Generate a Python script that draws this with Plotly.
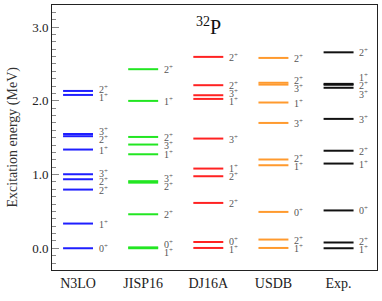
import plotly.graph_objects as go

models = ["N3LO", "JISP16", "DJ16A", "USDB", "Exp."]
colors = ["#1f1fff", "#22e622", "#ff2222", "#ff9a2e", "#111111"]

n3lo_E = [0.0, 0.335, 0.796, 0.936, 1.004, 1.339, 1.52, 1.55, 2.080, 2.134]
n3lo_J = ["0", "1", "2", "2", "3", "1", "2", "3", "1", "2"]

jisp_E = [0.0, 0.012, 0.461, 0.89, 0.91, 1.275, 1.407, 1.510, 1.999, 2.429]
jisp_J = ["1", "0", "2", "2", "3", "1", "3", "2", "1", "2"]

dj_E = [0.004, 0.085, 0.615, 0.977, 1.081, 1.488, 2.026, 2.076, 2.212, 2.596]
dj_J = ["1", "0", "2", "2", "1", "3", "1", "3", "2", "2"]

usdb_E = [0.004, 0.118, 0.493, 1.126, 1.204, 1.700, 1.977, 2.22, 2.245, 2.582]
usdb_J = ["1", "2", "0", "1", "2", "3", "1", "3", "2", "2"]

exp_E = [0.0, 0.078, 0.513, 1.149, 1.323, 1.755, 2.177, 2.218, 2.230, 2.658]
exp_J = ["1", "2", "0", "1", "2", "3", "3", "2", "1", "2"]

energies = [n3lo_E, jisp_E, dj_E, usdb_E, exp_E]
spins = [n3lo_J, jisp_J, dj_J, usdb_J, exp_J]

SERIF = "Liberation Serif, DejaVu Serif, Times New Roman, serif"
HALF = 0.23
GAP = 0.11


def spread(vals, gap):
    order = sorted(range(len(vals)), key=lambda i: vals[i])
    sv = [vals[i] for i in order]
    groups = [[i] for i in range(len(sv))]

    def start_of(g):
        c = sum(sv[k] for k in g) / len(g)
        return c - gap * (len(g) - 1) / 2

    changed = True
    while changed:
        changed = False
        new = [groups[0]]
        for g in groups[1:]:
            prev = new[-1]
            prev_top = start_of(prev) + gap * (len(prev) - 1)
            if start_of(g) - prev_top < gap - 1e-9:
                new[-1] = prev + g
                changed = True
            else:
                new.append(g)
        groups = new
    out = [0.0] * len(vals)
    for g in groups:
        s = start_of(g)
        for j, k in enumerate(g):
            out[order[k]] = s + j * gap
    return out


fig = go.Figure()
annotations = []
for ci, (E, J, col) in enumerate(zip(energies, spins, colors)):
    xs, ys = [], []
    for e in E:
        xs += [ci - HALF, ci + HALF, None]
        ys += [e, e, None]
    fig.add_trace(go.Scatter(x=xs, y=ys, mode="lines",
                             line=dict(color=col, width=2),
                             showlegend=False, hoverinfo="skip"))
    lp = spread(E, GAP)
    for e, j, yl in zip(E, J, lp):
        annotations.append(dict(x=ci + HALF + 0.06, y=yl, xref="x", yref="y",
                                text=j + "<sup>+</sup>", showarrow=False,
                                xanchor="left", yanchor="middle",
                                font=dict(size=10, color="#555555",
                                          family=SERIF)))

annotations.append(dict(x=2.0, y=3.02, xref="x", yref="y",
                        text="<sup>32</sup>P", showarrow=False,
                        xanchor="center", yanchor="middle",
                        font=dict(size=20, color="#111111", family=SERIF)))

annotations.append(dict(x=0, y=0.5, xref="paper", yref="paper", xshift=-40,
                        xanchor="center", yanchor="middle", showarrow=False,
                        text="Excitation energy (MeV)", textangle=-90,
                        font=dict(size=14, color="#333333", family=SERIF)))

fig.update_layout(
    width=382, height=301,
    margin=dict(l=52, r=5, t=5, b=31),
    plot_bgcolor="white", paper_bgcolor="white",
    font=dict(family=SERIF, size=13, color="#222222"),
    annotations=annotations,
    xaxis=dict(range=[-0.4, 4.59], tickvals=list(range(len(models))),
               ticktext=models, showline=True, linecolor="#222222",
               linewidth=1, mirror=True, ticks="", showgrid=False,
               zeroline=False, tickfont=dict(size=14, family=SERIF),
               automargin=False),
    yaxis=dict(range=[-0.295, 3.3], tickvals=[0, 1, 2, 3],
               ticktext=["0.0", "1.0", "2.0", "3.0"],
               showline=True, linecolor="#222222", linewidth=1, mirror=True,
               ticks="inside", ticklen=7, tickcolor="#888888",
               minor=dict(dtick=0.1, ticks="inside", ticklen=4,
                          tickcolor="#888888", showgrid=False),
               showgrid=False, zeroline=False,
               tickfont=dict(size=13, family=SERIF), automargin=False),
)

fig.write_html("out.html", config={"displayModeBar": False},
               post_script="document.body.style.margin='0';")
